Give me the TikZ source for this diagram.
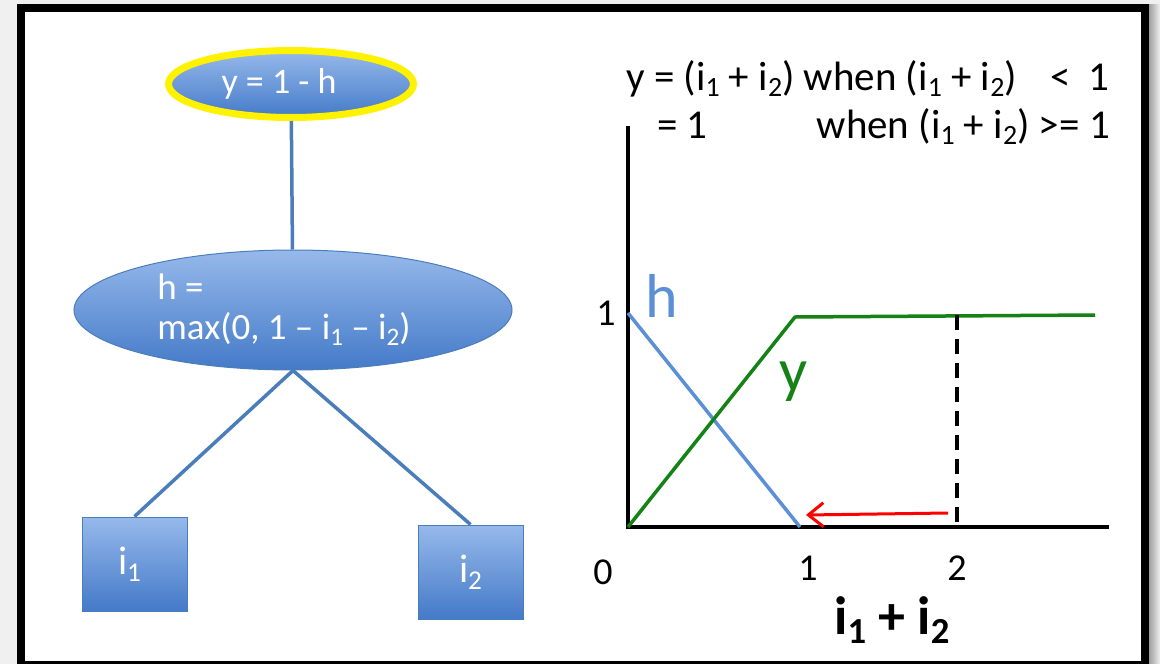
\documentclass[tikz,border=0pt]{standalone}
\usepackage{fontspec}
\setmainfont{Carlito}
\usetikzlibrary{shapes.geometric,arrows.meta}
\definecolor{bggrey}{RGB}{240,240,240}
\definecolor{nodeblue}{RGB}{74,126,187}
\definecolor{toplight}{RGB}{150,185,235}
\definecolor{botdark}{RGB}{68,122,200}
\definecolor{hblue}{RGB}{91,143,214}
\definecolor{ygreen}{RGB}{20,130,20}
\newcommand{\lsub}[1]{\raisebox{-0.35ex}{\scalebox{0.68}{#1}}}
\newcommand{\fs}[2]{\fontsize{#1}{#2}\selectfont}
\tikzset{
  blueshade/.style={top color=toplight, bottom color=botdark, text=white},
  topell/.style={ellipse, blueshade, draw=yellow, line width=7pt, inner sep=0pt,
     minimum width=245pt, minimum height=67pt, font=\fs{36}{40}},
  midell/.style={ellipse, blueshade, draw=nodeblue, line width=1pt, inner sep=0pt,
     minimum width=438pt, minimum height=120pt, font=\fs{37}{40}, align=left},
  inbox/.style={rectangle, blueshade, draw=nodeblue, line width=1pt, inner sep=0pt,
     minimum width=105pt, minimum height=94pt, font=\fs{40}{44}},
  conn/.style={draw=nodeblue, line width=3.5pt},
  axis/.style={draw=black, line width=3.5pt},
  lbl/.style={inner sep=0pt, font=\fs{38}{44}},
  formula/.style={inner sep=0pt, font=\fs{41}{46}},
}
\begin{document}
\begin{tikzpicture}[x=1pt,y=-1pt]
\useasboundingbox (0,0) rectangle (1160,664);
\fill[bggrey] (0,0) rectangle (1160,664);
\shade[left color=gray!75, right color=bggrey] (1149,4) rectangle (1160,664);
\fill[white] (25,12) rectangle (1141,661);
\draw[line width=8pt] (21,8) rectangle (1145,665);

% tree
\node[topell] (top) at (291,84) {y = 1 - h\rule{24pt}{0pt}};
\node[midell] (mid) at (293,310) {h =\\max(0, 1 – i\lsub{1} – i\lsub{2})\rule{18pt}{0pt}};
\node[inbox] (i1) at (134.5,564) {i\lsub{1}\rule{10pt}{0pt}};
\node[inbox] (i2) at (470.5,572) {i\lsub{2}};
\draw[conn] (top) -- (mid);
\draw[conn] (mid.south) -- (i1.north);
\draw[conn] (mid.south) -- (i2.north);

% formula text
\node[formula, anchor=base west] (f1) at (626,90) {y = (i\lsub{1} + i\lsub{2}) when (i\lsub{1} + i\lsub{2})};
\node[formula, anchor=base east] (f1b) at (1110,90) {<\hspace{0.45em}1};
\node[formula, anchor=base west] (f2) at (657,138) {= 1};
\node[formula, anchor=base east] (f2b) at (1110,138) {when (i\lsub{1} + i\lsub{2}) >= 1};

% chart
\coordinate (O) at (628,527);
\coordinate (ytop) at (628,128);
\coordinate (xend) at (1107,527);
\coordinate (h1) at (628,313);
\coordinate (h0) at (800,527);
\coordinate (yk) at (795,317);
\coordinate (yend) at (1095,315);
\coordinate (d1) at (957,315);
\coordinate (d0) at (957,527);
\coordinate (ra) at (948,513);
\coordinate (rb) at (806,515);
\draw[axis, line cap=rect] (ytop) -- (O) -- (xend);
\draw[draw=hblue, line width=3.5pt] (h1) -- (h0);
\draw[draw=ygreen, line width=3.5pt, line join=round] (O) -- (yk) -- (yend);
\draw[draw=black, line width=3.5pt, dash pattern=on 15pt off 9pt] (d1) -- (d0);
\draw[draw=red, line width=3pt, -{Straight Barb[length=15pt,width=24pt]}] (ra) -- (rb);

\node[lbl] (l1) at (606,313) {1};
\node[lbl, text=hblue, font=\fs{62}{66}] (lh) at (662,296) {h};
\node[lbl, text=ygreen, font=\fs{62}{66}] (ly) at (794,382) {y};
\node[lbl] (t0) at (603,572) {0};
\node[lbl] (t1) at (808,568) {1};
\node[lbl] (t2) at (957,568) {2};
\node[lbl, font=\bfseries\fs{54}{60}] (xl) at (892,620) {i\lsub{1} + i\lsub{2}};
\end{tikzpicture}
\end{document}
